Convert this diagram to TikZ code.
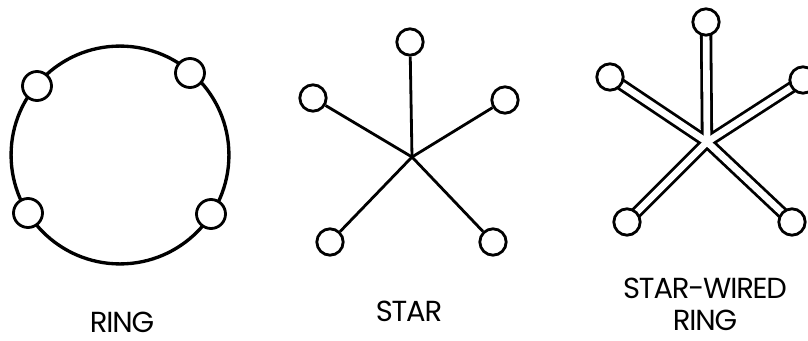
\documentclass[tikz,border=0pt]{standalone}
\usepackage{fontspec}
\setmainfont{Poppins}[LetterSpace=-4]
\begin{document}
\begin{tikzpicture}[x=0.02cm,y=-0.02cm,
  station/.style={circle,draw=black,fill=white,line width=1.6pt,minimum size=15pt,inner sep=0pt},
  bigstation/.style={station,minimum size=16.5pt},
  spoke/.style={line width=1.6pt},
  label/.style={font=\fontsize{16.5pt}{15pt}\selectfont,align=center,inner sep=0pt}]
\useasboundingbox (0,0) rectangle (808,341);
% RING
\node[circle,draw=black,line width=1.9pt,minimum size=124pt,inner sep=0pt] (ring) at (120,155) {};
\node[bigstation] (r1) at (37,86) {};
\node[bigstation] (r2) at (190,73) {};
\node[bigstation] (r3) at (28,213) {};
\node[bigstation] (r4) at (211,214) {};
\node[label,anchor=base] (ringlbl) at (122,332) {RING};
% STAR
\coordinate (sc) at (412,157);
\node[station] (s1) at (410,42) {};
\node[station] (s2) at (313,98) {};
\node[station] (s3) at (505,100) {};
\node[station] (s4) at (330,242) {};
\node[station] (s5) at (493,242) {};
\foreach \n in {s1,s2,s3,s4,s5} \draw[spoke] (sc) -- (\n);
\node[label,anchor=base] (starlbl) at (409,321) {STAR};
% STAR-WIRED RING
\coordinate (wc) at (707,142);
\coordinate (w1p) at (706,22);
\coordinate (w2p) at (610,77);
\coordinate (w3p) at (803,80);
\coordinate (w4p) at (627,222);
\coordinate (w5p) at (792,222);
\foreach \n in {w1p,w2p,w3p,w4p,w5p} \draw[line width=7pt] (wc) -- (\n);
\foreach \n in {w1p,w2p,w3p,w4p,w5p} \draw[white,line width=3.8pt,line cap=round] (wc) -- (\n);
\node[station] (w1) at (w1p) {};
\node[station] (w2) at (w2p) {};
\node[station] (w3) at (w3p) {};
\node[station] (w4) at (w4p) {};
\node[station] (w5) at (w5p) {};
\node[label,anchor=base] (swlbl) at (705,330) {STAR-WIRED\\[3pt]RING};
\end{tikzpicture}
\end{document}
